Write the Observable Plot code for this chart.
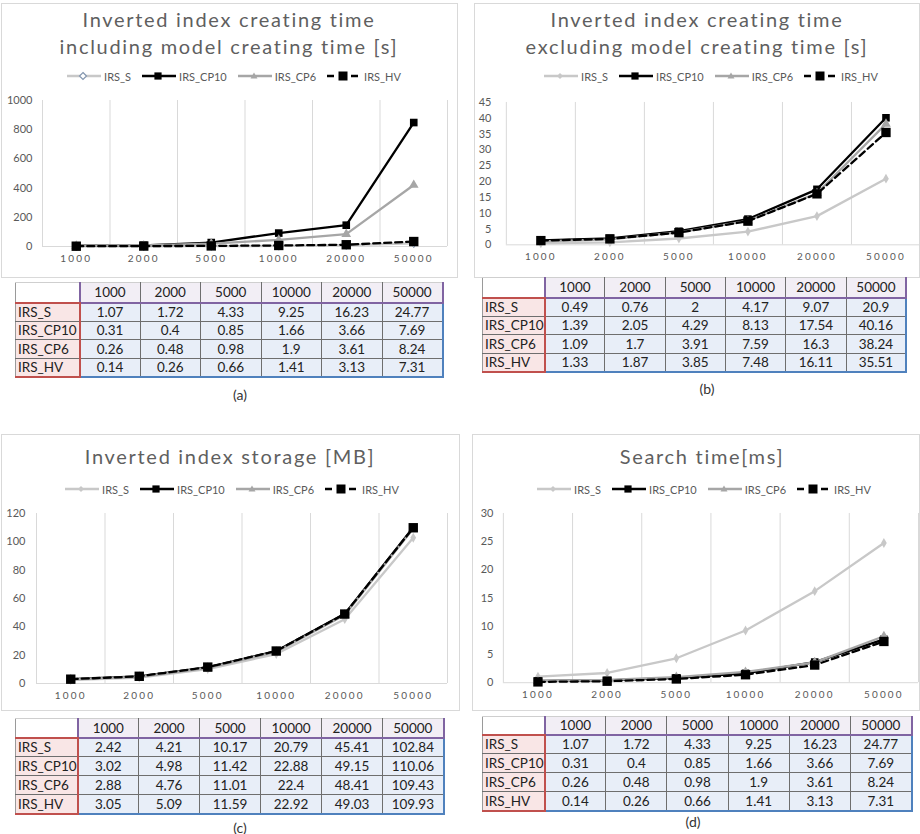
<!DOCTYPE html>
<html><head><meta charset="utf-8">
<script src="https://cdn.jsdelivr.net/npm/d3@7"></script>
<script src="https://cdn.jsdelivr.net/npm/@observablehq/plot@0.6"></script>
<style>
html,body{margin:0;padding:0;background:#fff;overflow:hidden}
#page{position:relative;width:920px;height:834px;font-family:Lato,"Open Sans",sans-serif;background:#fff}
.frame{position:absolute;border:1px solid #d9d9d9;box-sizing:border-box}
.title{position:absolute;text-align:center;color:#5f5f5f;font-size:20px;letter-spacing:1.7px;line-height:27px;white-space:nowrap}
.legend{position:absolute;display:flex;justify-content:center;align-items:center;gap:11px;font-size:11px;color:#595959;height:16px}
.legend .item{display:flex;align-items:center;gap:3px}
.plot{position:absolute}
.plot svg{overflow:visible}
.plot [aria-label^="x-axis"] text{letter-spacing:2.2px;font-size:10px}
.plot [aria-label^="y-axis"] text{font-size:11px}
.cap{position:absolute;font-size:14px;color:#333;transform:translate(-50%,-50%)}
table.dt{position:absolute;border-collapse:collapse;font-size:13.5px;color:#222;table-layout:fixed;border-left:1px solid #9a9a9a;border-top:1px solid #cfcfcf}
table.dt td,table.dt th{padding:0;text-align:center;font-weight:normal;border-right:1px solid #6e6e6e;border-bottom:1px solid #6e6e6e;background:#e8eef8;white-space:nowrap;overflow:hidden}
table.dt th{background:#f2eef5;border-bottom:2px solid #8064a2;border-right:1px solid #6e6e6e}
table.dt th.corner{background:#fff;border-bottom:2px solid #c0504d;border-right:2px solid #8064a2}
table.dt th.lastc{border-right:2px solid #8064a2}
table.dt td.rh{background:#f9e6e6;text-align:left;padding-left:2px;border-right:2px solid #c0504d}
table.dt tr.last td{border-bottom:2px solid #4f81bd}
table.dt tr.last td.rh{border-bottom:2px solid #c0504d}
table.dt td.lastc{border-right:2px solid #4f81bd}
</style>
</head><body><div id="page"></div>
<script>
// ---------- data ----------
const categories = ["1000", "2000", "5000", "10000", "20000", "50000"];
const seriesNames = ["IRS_S", "IRS_CP10", "IRS_CP6", "IRS_HV"];

// (a) chart lines
const aS    = [1, 1, 2, 4, 9, 21];
const aCP10 = [5, 8, 27, 92, 146, 849];
const aCP6  = [4, 7, 20, 45, 85, 421];
const aHV   = [2, 3, 4, 7, 12, 34];
// (a) table as printed
const taS    = ["1.07", "1.72", "4.33", "9.25", "16.23", "24.77"];
const taCP10 = ["0.31", "0.4", "0.85", "1.66", "3.66", "7.69"];
const taCP6  = ["0.26", "0.48", "0.98", "1.9", "3.61", "8.24"];
const taHV   = ["0.14", "0.26", "0.66", "1.41", "3.13", "7.31"];

// (b) excluding model creating time [s]
const bS    = [0.49, 0.76, 2, 4.17, 9.07, 20.9];
const bCP10 = [1.39, 2.05, 4.29, 8.13, 17.54, 40.16];
const bCP6  = [1.09, 1.7, 3.91, 7.59, 16.3, 38.24];
const bHV   = [1.33, 1.87, 3.85, 7.48, 16.11, 35.51];

// (c) storage [MB]
const cS    = [2.42, 4.21, 10.17, 20.79, 45.41, 102.84];
const cCP10 = [3.02, 4.98, 11.42, 22.88, 49.15, 110.06];
const cCP6  = [2.88, 4.76, 11.01, 22.4, 48.41, 109.43];
const cHV   = [3.05, 5.09, 11.59, 22.92, 49.03, 109.93];

// (d) search time [ms]
const dS    = [1.07, 1.72, 4.33, 9.25, 16.23, 24.77];
const dCP10 = [0.31, 0.4, 0.85, 1.66, 3.66, 7.69];
const dCP6  = [0.26, 0.48, 0.98, 1.9, 3.61, 8.24];
const dHV   = [0.14, 0.26, 0.66, 1.41, 3.13, 7.31];

const yTicksA = [0, 200, 400, 600, 800, 1000];
const yTicksB = [0, 5, 10, 15, 20, 25, 30, 35, 40, 45];
const yTicksC = [0, 20, 40, 60, 80, 100, 120];
const yTicksD = [0, 5, 10, 15, 20, 25, 30];

// ---------- styles ----------
const seriesStyle = {
  IRS_S:    {stroke: "#c8c8c8", symbol: "diamond", r: 3, fill: "#c8c8c8", dash: null},
  IRS_CP10: {stroke: "#000", symbol: "square", r: 4.3, fill: "#000", dash: null},
  IRS_CP6:  {stroke: "#a6a6a6", symbol: "triangle", r: 3.6, fill: "#a6a6a6", dash: null},
  IRS_HV:   {stroke: "#000", symbol: "square", r: 5.3, fill: "#000", dash: "7,4"}
};

const page = document.getElementById("page");
function el(tag, cls, css, html) {
  const e = document.createElement(tag);
  if (cls) e.className = cls;
  Object.assign(e.style, css || {});
  if (html != null) e.innerHTML = html;
  page.appendChild(e);
  return e;
}

function swatch(name, hollowS) {
  const s = seriesStyle[name];
  let m = "";
  if (s.symbol === "diamond") {
    m = hollowS ? `<polygon points="16,2.5 19.5,6 16,9.5 12.5,6" fill="#fff" stroke="#8497b0" stroke-width="1.2"/>`
                : `<polygon points="16,3 19,6 16,9 13,6" fill="${s.fill}"/>`;
  } else if (s.symbol === "triangle") {
    m = `<polygon points="16,2.5 19.5,8.5 12.5,8.5" fill="${s.fill}"/>`;
  } else {
    const h = name === "IRS_HV" ? 4.5 : 3.6;
    m = `<rect x="${16 - h}" y="${6 - h}" width="${2 * h}" height="${2 * h}" fill="${s.fill}"/>`;
  }
  const dash = s.dash ? `stroke-dasharray="7,5"` : "";
  return `<svg width="34" height="12"><line x1="0" x2="34" y1="6" y2="6" stroke="${s.stroke}" stroke-width="2.4" ${dash}/>${m}</svg>`;
}

function legend(left, top, width, hollowS) {
  const lg = el("div", "legend", {left: left + "px", top: top + "px", width: width + "px"});
  seriesNames.forEach(n => {
    const it = document.createElement("div");
    it.className = "item";
    it.innerHTML = swatch(n, hollowS) + `<span>${n}</span>`;
    lg.appendChild(it);
  });
}

function chart(cfg) {
  const data = [];
  seriesNames.forEach((s, k) => cfg.values[k].forEach((v, i) => data.push({series: s, i, v})));
  const edges = d3.range(categories.length + 1).map(i => i - 0.5);
  const marks = [
    Plot.ruleX(edges, {stroke: "#d9d9d9", strokeWidth: 1}),
    Plot.ruleY([0], {stroke: "#d9d9d9", strokeWidth: 1})
  ];
  seriesNames.forEach(s => {
    const st = seriesStyle[s];
    const sub = data.filter(d => d.series === s);
    marks.push(Plot.line(sub, {x: "i", y: "v", stroke: st.stroke, strokeWidth: 2.3,
      strokeDasharray: st.dash || undefined, strokeLinejoin: "round"}));
    if (cfg.hollowS && s === "IRS_S") {
      marks.push(Plot.dot(sub, {x: "i", y: "v", symbol: "diamond", r: 2.6, fill: "#fff", stroke: "#8497b0", strokeWidth: 1}));
    } else {
      marks.push(Plot.dot(sub, {x: "i", y: "v", symbol: st.symbol, r: st.r, fill: st.fill, stroke: "none"}));
    }
  });
  const svg = Plot.plot({
    width: cfg.width, height: cfg.height,
    marginLeft: cfg.ml, marginRight: cfg.mr, marginTop: cfg.mt, marginBottom: cfg.mb,
    x: {domain: [-0.5, categories.length - 0.5], ticks: d3.range(categories.length),
        tickFormat: i => categories[i], tickSize: 0, tickPadding: 8, label: null},
    y: {domain: cfg.domain, ticks: cfg.yTicks, tickFormat: d => String(d), tickSize: 0, tickPadding: cfg.yPad, label: null},
    style: {fontFamily: "Lato, 'Open Sans', sans-serif", fontSize: "11px", color: "#595959", background: "transparent"},
    marks
  });
  const holder = el("div", "plot", {left: cfg.left + "px", top: cfg.top + "px"});
  holder.appendChild(svg);
}

function table(left, top, firstW, colW, headH, rowH, rows) {
  const t = document.createElement("table");
  t.className = "dt";
  Object.assign(t.style, {left: left + "px", top: top + "px"});
  let h = `<colgroup><col style="width:${firstW}px">` + categories.map(() => `<col style="width:${colW}px">`).join("") + `</colgroup>`;
  h += `<tr style="height:${headH}px"><th class="corner"></th>` +
    categories.map((c, i) => `<th class="${i === categories.length - 1 ? "lastc" : ""}">${c}</th>`).join("") + `</tr>`;
  rows.forEach((r, k) => {
    h += `<tr class="${k === rows.length - 1 ? "last" : ""}" style="height:${rowH}px"><td class="rh">${seriesNames[k]}</td>` +
      r.map((v, i) => `<td class="${i === r.length - 1 ? "lastc" : ""}">${v}</td>`).join("") + `</tr>`;
  });
  t.innerHTML = h;
  page.appendChild(t);
}

// ---------- frames ----------
el("div", "frame", {left: "1px", top: "3px", width: "457px", height: "275px"});
el("div", "frame", {left: "474px", top: "3px", width: "446px", height: "275px"});
el("div", "frame", {left: "1px", top: "434px", width: "459px", height: "277px"});
el("div", "frame", {left: "472px", top: "434px", width: "448px", height: "277px"});

// ---------- titles ----------
el("div", "title", {left: "0px", width: "458px", top: "6px"}, "Inverted index creating time<br>including model creating time [s]");
el("div", "title", {left: "474px", width: "446px", top: "6px"}, "Inverted index creating time<br>excluding model creating time [s]");
el("div", "title", {left: "0px", width: "460px", top: "443px"}, "Inverted index storage [MB]");
el("div", "title", {left: "472px", width: "460px", top: "443px"}, "Search time[ms]");

// ---------- legends ----------
legend(0, 68, 468, true);
legend(474, 68, 474, false);
legend(0, 481, 464, false);
legend(472, 481, 464, false);

// ---------- charts ----------
chart({left: 2, top: 90, width: 453, height: 178, ml: 40, mr: 8, mt: 10, mb: 22, yPad: 10,
  domain: [0, 1000], yTicks: yTicksA, values: [aS, aCP10, aCP6, aHV], hollowS: true});
chart({left: 470, top: 92, width: 452, height: 175, ml: 36, mr: 0, mt: 10, mb: 22, yPad: 15,
  domain: [0, 45], yTicks: yTicksB, values: [bS, bCP10, bCP6, bHV]});
chart({left: 2, top: 503, width: 453, height: 202, ml: 34, mr: 8, mt: 10, mb: 22, yPad: 11,
  domain: [0, 120], yTicks: yTicksC, values: [cS, cCP10, cCP6, cHV]});
chart({left: 470, top: 503, width: 452, height: 202, ml: 33, mr: 2, mt: 10, mb: 22, yPad: 10,
  domain: [0, 30], yTicks: yTicksD, values: [dS, dCP10, dCP6, dHV]});

// ---------- tables ----------
table(15, 282, 64, 60.5, 20, 18.5, [taS, taCP10, taCP6, taHV]);
table(482, 277, 62, 60.3, 20, 18.5, [bS, bCP10, bCP6, bHV].map(r => r.map(String)));
table(15, 718, 61, 61, 19, 19, [cS, cCP10, cCP6, cHV].map(r => r.map(String)));
table(482, 716, 62, 61.2, 18, 19, [dS, dCP10, dCP6, dHV].map(r => r.map(String)));

// ---------- captions ----------
el("div", "cap", {left: "240px", top: "394px"}, "(a)");
el("div", "cap", {left: "707px", top: "388px"}, "(b)");
el("div", "cap", {left: "240px", top: "827px"}, "(c)");
el("div", "cap", {left: "693px", top: "821px"}, "(d)");
</script>
</body></html>
